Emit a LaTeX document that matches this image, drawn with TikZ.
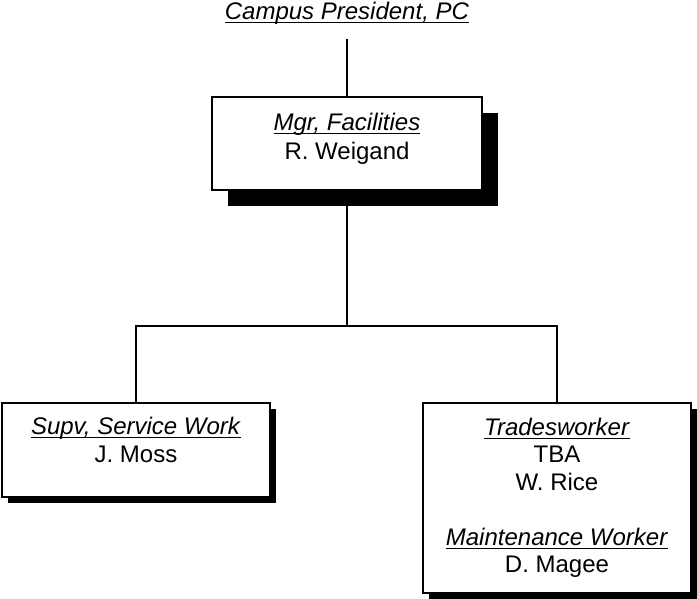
\documentclass[tikz,border=0pt]{standalone}
\usepackage{fontspec}
\setmainfont{Liberation Sans}
\usetikzlibrary{shadows}
\newcommand\ttl[1]{\underline{\raisebox{0pt}[\height][0pt]{\textit{#1}}}}
\newcommand\lift[1]{\rule[-#1]{0pt}{#1}}

\begin{document}
\begin{tikzpicture}[x=0.5pt,y=-0.5pt,
    box/.style={rectangle,draw,line width=1pt,fill=white,align=center,inner sep=0pt,
      minimum width=134pt,font=\fontsize{12}{13.75}\selectfont},
    bigshadow/.style={drop shadow={shadow xshift=8pt,shadow yshift=-8pt,fill=black,opacity=1}},
    smallshadow/.style={drop shadow={shadow xshift=2.75pt,shadow yshift=-2.75pt,fill=black,opacity=1}},
    link/.style={line width=1pt}
  ]
  \useasboundingbox (0,0) rectangle (697,599);
  \node[font=\fontsize{12}{14}\selectfont,anchor=base] (pres) at (347,20) {\ttl{Campus President, PC}};
  \node[box,bigshadow,minimum width=135pt,minimum height=46.5pt,font=\fontsize{12}{14.5}\selectfont] (mgr) at (347,143.5)
    {\ttl{Mgr, Facilities}\\R. Weigand\lift{7pt}};
  \node[box,smallshadow,minimum height=47pt] (supv) at (136,450)
    {\ttl{Supv, Service Work}\\J. Moss\lift{10pt}};
  \node[box,smallshadow,minimum height=95pt] (trades) at (557,498)
    {\ttl{Tradesworker}\\TBA\\W. Rice\\[13.75pt]\ttl{Maintenance Worker}\\D. Magee};
  \coordinate (split) at (347,326);
  \draw[link,shorten <=4pt] (pres) -- (mgr);
  \draw[link] (mgr) -- (split);
  \draw[link] (supv) |- (split) -| (trades);
\end{tikzpicture}
\end{document}
